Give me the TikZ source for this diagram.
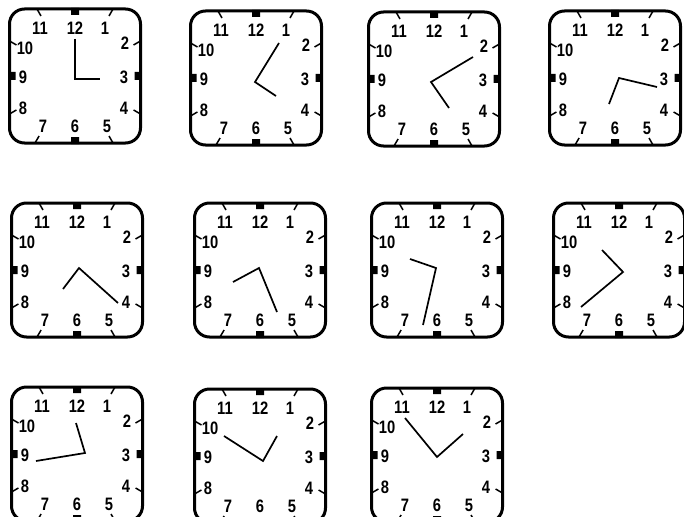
\documentclass[tikz,border=0pt]{standalone}
\usepackage{fontspec}
\newfontfamily\dialfont{Liberation Sans}[FakeStretch=0.82]
\usepackage{tikz}

\tikzset{
  clockframe/.style={line width=3pt,rounded corners=15pt},
  clocktick/.style={line width=1.5pt},
  clocknum/.style={font=\dialfont\bfseries\fontsize{18}{18}\selectfont,inner sep=0pt},
  clockhand/.style={line width=1.7pt,line join=miter},
}

\begin{document}
\begin{tikzpicture}[x=1pt,y=-1pt]
\useasboundingbox (0,0) rectangle (684,516);
\fill[white] (0,0) rectangle (684,516);
% dials
\foreach \cx/\cy [count=\i] in {75/76,256/78,434/79,615/78,77/270,260/270,437/270,619/270,77/454,260/456,437/455}{
  \begin{scope}[shift={(\cx,\cy)}]
    \coordinate (c\i) at (0,0);
    \draw[clockframe] (-65.5,-67) rectangle (65.5,67);
    \fill (-4,-68) rectangle (4,-61) (-4,68) rectangle (4,61)
          (-66.5,-4) rectangle (-59.5,4) (66.5,-4) rectangle (59.5,4);
    \foreach \tx/\ty/\ux/\uy in {-38/-67/-34/-60,38/-67/34/-60,-65.5/-35/-58.5/-31,65.5/-35/58.5/-31,
                                 -65.5/38/-58.6/34,65.5/38/58.6/34,-40/67/-35.9/60,38/67/34/60}
      \draw[clocktick] (\tx,\ty) -- (\ux,\uy);
    \foreach \h/\nx/\ny in {12/0/-48,1/30/-48,2/50/-33,3/49/1,4/49/32,5/32/50,
                            6/0/50,7/-32/50,8/-52/32,9/-52/1,10/-50/-28,11/-35/-48}
      \node[clocknum] (n\i-\h) at (\nx,\ny) {\h};
  \end{scope}
}
% hands: long tip / pivot / short tip
\foreach \ax/\ay/\px/\py/\bx/\by in {75/39/75/79/100/79, 279/43/255/82/276/96,
    473/57/431/82/449/108, 657/87/619/78/609/104, 118/303/79/268/63/289,
    277/312/259/268/233/282, 423/325/436/268/410/259, 581/307/623/272/602/250,
    36/461/85/453/76/423, 224/436/263/461/277/436, 405/418/437/457/463/434}
  \draw[clockhand] (\ax,\ay) -- (\px,\py) -- (\bx,\by);
\end{tikzpicture}
\end{document}
